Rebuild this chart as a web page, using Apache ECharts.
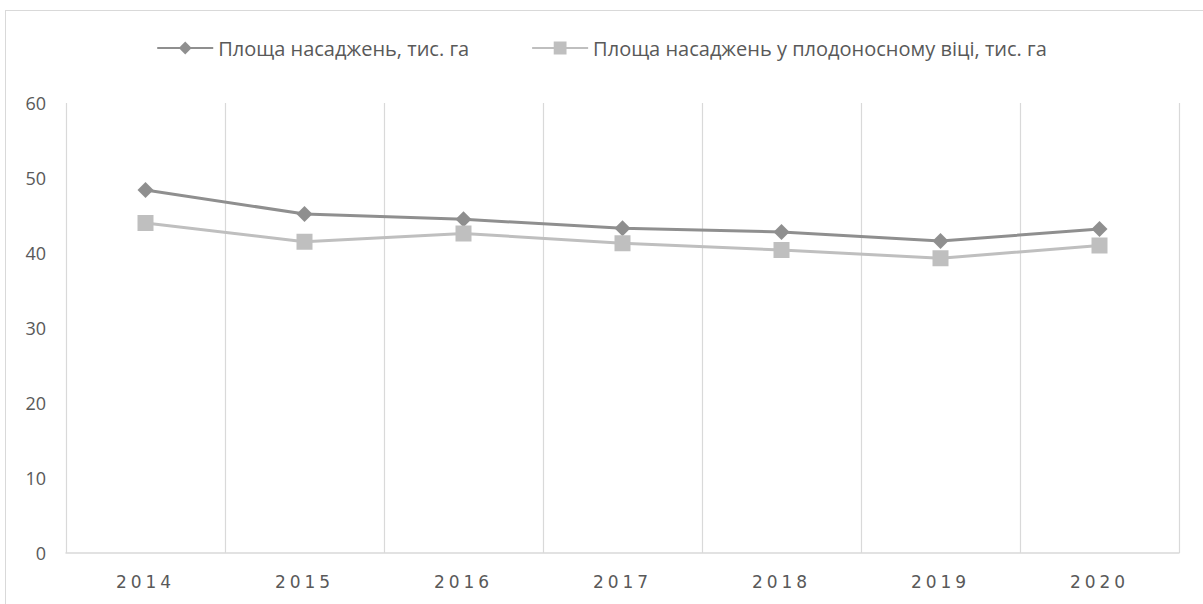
<!DOCTYPE html>
<html>
<head>
<meta charset="utf-8">
<script src="https://cdn.jsdelivr.net/npm/echarts@6/dist/echarts.min.js"></script>
<style>
  html, body { margin: 0; padding: 0; background: #fff; overflow: hidden; }
  #frame { position: absolute; left: 5px; top: 10px; width: 1210px; height: 610px; border: 1px solid #d9d9d9; box-sizing: border-box; }
  #chart { position: absolute; left: 0; top: 0; width: 1203px; height: 604px; }
</style>
</head>
<body>
<div id="frame"></div>
<div id="chart"></div>
<script>
var years = ['2014', '2015', '2016', '2017', '2018', '2019', '2020'];
var seriesNames = ['Площа насаджень, тис. га', 'Площа насаджень у плодоносному віці, тис. га'];
var totalArea = [48.4, 45.2, 44.5, 43.3, 42.8, 41.6, 43.2];
var fruitingArea = [44.0, 41.5, 42.6, 41.3, 40.4, 39.3, 41.0];

var myChart = echarts.init(document.getElementById('chart'), null, { renderer: 'svg' });
var option = {
  animation: false,
  legend: {
    top: 33,
    left: 'center',
    itemGap: 62,
    itemWidth: 56,
    itemHeight: 16,
    textStyle: { color: '#595959', fontSize: 20, fontFamily: 'Open Sans' },
    data: seriesNames
  },
  grid: { left: 66, right: 24, top: 103, bottom: 51 },
  xAxis: {
    type: 'category',
    data: years,
    boundaryGap: true,
    axisLine: { lineStyle: { color: '#d9d9d9', width: 1.5 } },
    axisTick: { show: false },
    axisLabel: { color: '#595959', fontSize: 17, margin: 20, fontFamily: 'DejaVu Sans' },
    splitLine: { show: true, interval: 0, lineStyle: { color: '#d9d9d9', width: 1.2 } }
  },
  yAxis: {
    type: 'value',
    min: 0,
    max: 60,
    interval: 10,
    axisLine: { show: false },
    axisTick: { show: false },
    axisLabel: { color: '#595959', fontSize: 18, margin: 20, fontFamily: 'Open Sans' },
    splitLine: { show: false }
  },
  series: [
    {
      name: seriesNames[0],
      type: 'line',
      data: totalArea,
      symbol: 'diamond',
      symbolSize: 16,
      itemStyle: { color: '#8f8f8f' },
      lineStyle: { color: '#8f8f8f', width: 3 }
    },
    {
      name: seriesNames[1],
      type: 'line',
      data: fruitingArea,
      symbol: 'rect',
      symbolSize: 16,
      itemStyle: { color: '#bfbfbf' },
      lineStyle: { color: '#bfbfbf', width: 3 }
    }
  ]
};
myChart.setOption(option);

// spaced-out year labels like the original
document.querySelectorAll('#chart svg text').forEach(function (t) {
  if (years.indexOf(t.textContent) >= 0) {
    t.setAttribute('letter-spacing', '4px');
  }
});
</script>
</body>
</html>
